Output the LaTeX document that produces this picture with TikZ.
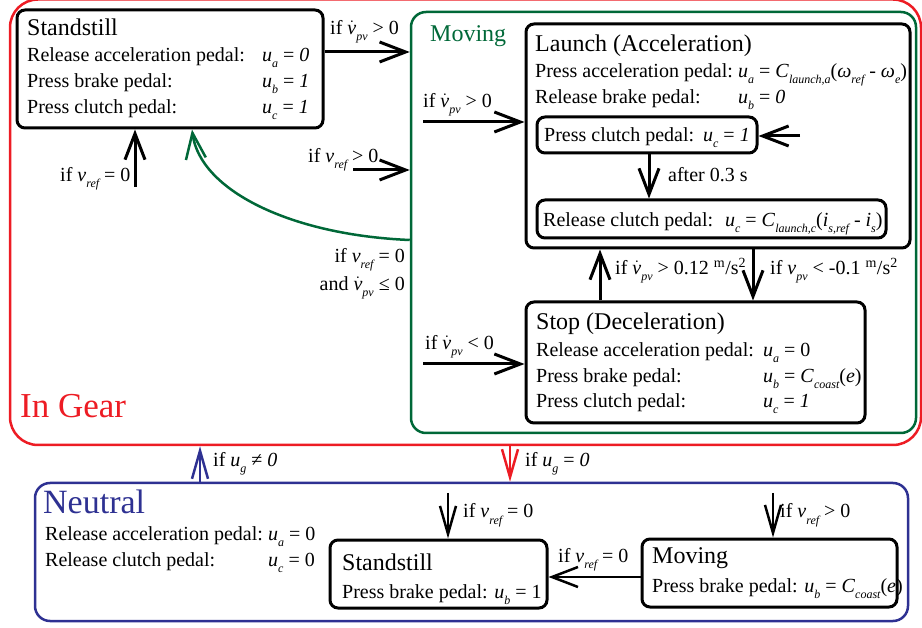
\documentclass[tikz,border=0pt]{standalone}
\usepackage{fontspec}
\setmainfont{Liberation Serif}
\usetikzlibrary{arrows.meta,fit}
\definecolor{gred}{RGB}{237,28,36}
\definecolor{ggreen}{RGB}{0,104,56}
\definecolor{gblue}{RGB}{46,49,146}
\newcommand{\sbx}[1]{\raisebox{-6pt}{\fontsize{12}{12}\selectfont\itshape #1}}
\newcommand{\vd}{\ensuremath{\dot{\mbox{\itshape v}}}}
\newcommand{\iv}{\textit{v}}
\newcommand{\iu}{\textit{u}}
\newcommand{\ms}{\textsuperscript{m}/s\textsuperscript{2}}
\tikzset{
 box/.style={draw=black, line width=3pt, rounded corners=8pt, inner sep=0pt},
 region/.style={line width=2.5pt, inner sep=0pt},
 txt/.style={anchor=base west, inner sep=0pt, font=\fontsize{20}{24}\selectfont},
 rtxt/.style={anchor=base east, inner sep=0pt, font=\fontsize{20}{24}\selectfont},
 ttl/.style={anchor=base west, inner sep=0pt, font=\fontsize{24}{28}\selectfont},
 arr/.style={line width=3pt, -{Straight Barb[length=26pt,width=20pt]}},
 narr/.style={line width=2.5pt, -{Straight Barb[length=28pt,width=16pt]}},
}
\begin{document}
\begin{tikzpicture}[x=1pt,y=-1pt]
\useasboundingbox (0,0) rectangle (922,628);
% regions
\node[region, draw=gred, rounded corners=28pt, fit={(10,-0.5) (921,445)}] (ingear) {};
\node[region, draw=ggreen, rounded corners=15pt, fit={(411,12) (916,433)}] (moving) {};
\node[region, draw=gblue, rounded corners=15pt, fit={(35,483) (908,621)}] (neutral) {};
\node[anchor=base west, inner sep=0pt, text=gred, font=\fontsize{35}{40}\selectfont] (tgear) at (20,418) {In Gear};
\node[anchor=base west, inner sep=0pt, text=ggreen, font=\fontsize{24}{28}\selectfont] (tmov) at (430,42) {Moving};
\node[anchor=base west, inner sep=0pt, text=gblue, font=\fontsize{34}{38}\selectfont] (tneu) at (43,513) {Neutral};
% boxes
\node[box, fit={(17,10) (323,128)}] (sstill) {};
\node[box, fit={(526,24) (910,248)}] (launch) {};
\node[box, fit={(537,117) (757,153)}] (pclutch) {};
\node[box, fit={(537,200) (886,238)}] (rclutch) {};
\node[box, fit={(526,302) (865,423)}] (stop) {};
\node[box, fit={(330,540) (547,608)}] (nstill) {};
\node[box, fit={(642,539) (897,607)}] (nmove) {};
% Standstill text
\node[ttl] (s0) at (27,36) {Standstill};
\node[txt] (s1) at (27,62) {Release acceleration pedal:};
\node[txt] (s2) at (27,88) {Press brake pedal:};
\node[txt] (s3) at (27,114) {Press clutch pedal:};
\node[txt] (s1u) at (262,62) {\iu\sbx{a} = \textit{0}};
\node[txt] (s2u) at (262,88) {\iu\sbx{b} = \textit{1}};
\node[txt] (s3u) at (262,114) {\iu\sbx{c} = \textit{1}};
% Launch text
\node[ttl] (l0) at (535,52) {Launch (Acceleration)};
\node[txt] (l1) at (535,78) {Press acceleration pedal:};
\node[txt] (l2) at (535,104) {Release brake pedal:};
\node[txt] (l1u) at (738,78) {\iu\sbx{a} = \textit{C}\sbx{launch,a}(\textit{ω}\sbx{ref} - \textit{ω}\sbx{e})};
\node[txt] (l2u) at (738,104) {\iu\sbx{b} = \textit{0}};
\node[txt] (pc) at (544,142) {Press clutch pedal:\hspace{0.45em}\iu\sbx{c} = \textit{1}};
\node[txt] (rc) at (543,227) {Release clutch pedal:\hspace{0.6em}\iu\sbx{c} = \textit{C}\sbx{launch,c}(\textit{i}\sbx{s,ref} - \textit{i}\sbx{s})};
% Stop text
\node[ttl] (t0) at (536,330) {Stop (Deceleration)};
\node[txt] (t1) at (536,357) {Release acceleration pedal:};
\node[txt] (t2) at (536,383) {Press brake pedal:};
\node[txt] (t3) at (536,408) {Press clutch pedal:};
\node[txt] (t1u) at (763,357) {\iu\sbx{a} = 0};
\node[txt] (t2u) at (763,383) {\iu\sbx{b} = \textit{C}\sbx{coast}(\textit{e})};
\node[txt] (t3u) at (763,408) {\iu\sbx{c} = \textit{1}};
% Neutral text
\node[txt] (n1) at (45,540) {Release acceleration pedal:};
\node[txt] (n2) at (45,566) {Release clutch pedal:};
\node[txt] (n1u) at (268,540) {\iu\sbx{a} = 0};
\node[txt] (n2u) at (268,566) {\iu\sbx{c} = 0};
\node[ttl] (ns0) at (342,570) {Standstill};
\node[txt] (ns1) at (342,598) {Press brake pedal: \iu\sbx{b} = 1};
\node[ttl] (nm0) at (652,563) {Moving};
\node[txt] (nm1) at (652,592) {Press brake pedal: \iu\sbx{b} = \textit{C}\sbx{coast}(\textit{e})};
% free ends
\coordinate (f1) at (135,187);
\coordinate (f2) at (353,170);
\coordinate (f3) at (423,122);
\coordinate (f4) at (800,136);
\coordinate (f5) at (423,364);
\coordinate (f6) at (448,493);
\coordinate (f7) at (773,493);
% connectors
\draw[arr] (sstill.east |- 0,52) -- (moving.west |- 0,52);
\draw[arr] (f1) -- (sstill.south -| f1);
\draw[arr, draw=ggreen, line width=2.5pt] (moving.west |- 0,240) .. controls (290,235) and (200,190) .. (sstill.south -| 192,0);
\draw[arr] (f2) -- (moving.west |- f2);
\draw[arr] (f3) -- (launch.west |- f3);
\draw[arr] (f4) -- (pclutch.east |- f4);
\draw[arr] (pclutch.south -| 649,0) -- (rclutch.north -| 649,0);
\draw[arr] (stop.north -| 600,0) -- (launch.south -| 600,0);
\draw[arr] (launch.south -| 753,0) -- (stop.north -| 753,0);
\draw[arr] (f5) -- (stop.west |- f5);
\draw[narr, draw=gred] (ingear.south -| 510,0) -- (neutral.north -| 510,0);
\draw[narr, draw=gblue] (neutral.north -| 200,0) -- (ingear.south -| 200,0);
\draw[narr] (f6) -- (nstill.north -| f6);
\draw[narr] (f7) -- (nmove.north -| f7);
\draw[arr, line width=2.5pt] (nmove.west |- 0,577) -- (nstill.east |- 0,577);
% labels
\node[txt] (a1) at (330,35) {if \vd\sbx{pv} > 0};
\node[txt] (a2) at (60,182) {if \iv\sbx{ref} = 0};
\node[txt] (a4) at (308,163) {if \iv\sbx{ref} > 0};
\node[rtxt] (a3a) at (405,263) {if \iv\sbx{ref} = 0};
\node[rtxt] (a3b) at (405,291) {and \vd\sbx{pv} ≤ 0};
\node[txt] (a5) at (423,108) {if \vd\sbx{pv} > 0};
\node[txt] (a7) at (668,182) {after 0.3 s};
\node[txt] (a8) at (615,275) {if \vd\sbx{pv} > 0.12 \ms};
\node[txt] (a9) at (770,275) {if \iv\sbx{pv} < -0.1 \ms};
\node[txt] (a10) at (425,350) {if \vd\sbx{pv} < 0};
\node[txt] (a11) at (525,467) {if \iu\sbx{g} = \textit{0}};
\node[txt] (a12) at (213,467) {if \iu\sbx{g} ≠ \textit{0}};
\node[txt] (a13) at (463,518) {if \iv\sbx{ref} = 0};
\node[txt] (a14) at (780,518) {if \iv\sbx{ref} > 0};
\node[txt] (a15) at (558,562) {if \iv\sbx{ref} = 0};
\end{tikzpicture}
\end{document}
